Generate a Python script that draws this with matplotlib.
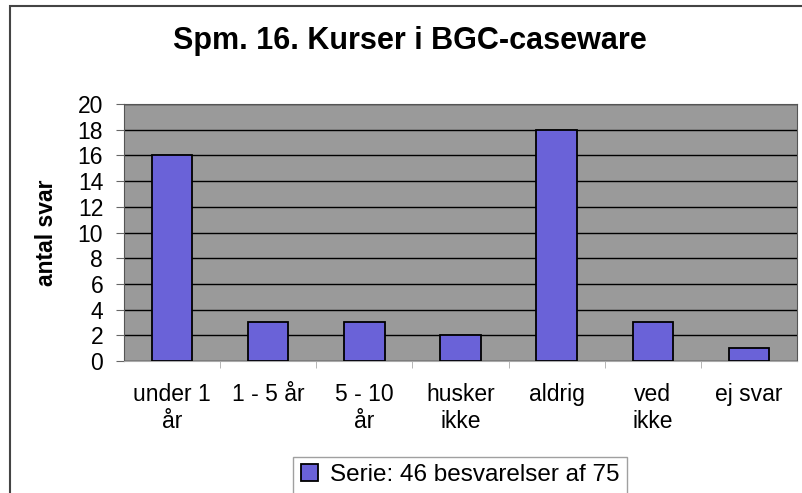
import matplotlib
matplotlib.use("Agg")
import matplotlib.pyplot as plt
from matplotlib.patches import Rectangle

categories = ["under 1\når", "1 - 5 år", "5 - 10\når", "husker\nikke", "aldrig", "ved\nikke", "ej svar"]
counts = [16, 3, 3, 2, 18, 3, 1]
yticks = list(range(0, 21, 2))
series_label = "Serie: 46 besvarelser af 75"

plt.rcParams["font.family"] = ["Liberation Sans", "DejaVu Sans"]

W, H = 803, 493
fig = plt.figure(figsize=(W / 100, H / 100), dpi=100)
# outer chart frame (cut by page edge right and bottom)
fig.add_artist(Rectangle((10 / W, -0.05), 1.1, 1 - 6 / H + 0.05, transform=fig.transFigure,
                         fill=False, ec="#444444", lw=1.5))

ax = fig.add_axes([124 / W, 1 - 361 / H, (797 - 124) / W, (361 - 104) / H])
ax.set_facecolor("#9a9a9a")
x = range(len(categories))
ax.bar(x, counts, width=0.42, color="#6a62d8", edgecolor="black", lw=1.3, zorder=3,
       label=series_label)
ax.set_xlim(-0.5, len(categories) - 0.5)
ax.set_ylim(0, 20)
ax.set_yticks(yticks)
ax.set_yticklabels([str(v) for v in yticks], fontsize=16.5)
ax.yaxis.grid(True, color="black", lw=1.0, zorder=1)
ax.set_xticks(list(x))
ax.set_xticklabels(categories, fontsize=16.5, linespacing=1.2)
ax.tick_params(axis="x", length=0, pad=16)
ax.set_xticks([i + 0.5 for i in range(len(categories) - 1)], minor=True)
ax.tick_params(axis="x", which="minor", length=5, color="#aaaaaa")
ax.tick_params(axis="y", length=6, color="#666666", pad=9)
for s in ["top", "right"]:
    ax.spines[s].set_color("#555555")
ax.spines["left"].set_color("#555555")
ax.spines["bottom"].set_color("#aaaaaa")
ax.set_ylabel("antal svar", fontsize=16.5, fontweight="bold", labelpad=14)

fig.text(410 / W, 1 - 41 / H, "Spm. 16. Kurser i BGC-caseware", ha="center", va="center",
         fontsize=22, fontweight="bold")

fig.legend(loc="upper center", bbox_to_anchor=(460 / W, 1 - 457 / H), fontsize=17.5,
           frameon=True, fancybox=False, edgecolor="#888888", handlelength=0.7,
           handleheight=0.7, handletextpad=0.5, borderpad=0.3, borderaxespad=0)

fig.savefig("out.png", dpi=100)
